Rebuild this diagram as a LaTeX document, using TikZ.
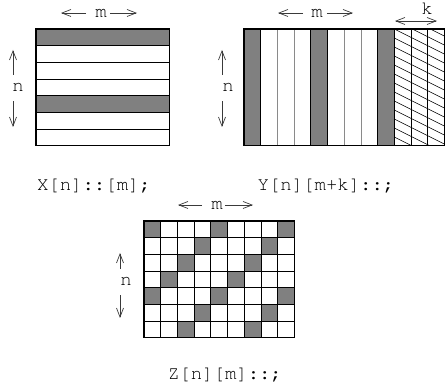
\documentclass[tikz,border=0pt]{standalone}
\usepackage[T1,TU]{fontenc}
\usepackage{xcolor}
\usetikzlibrary{arrows.meta,positioning}
\definecolor{ink}{HTML}{000000}
\definecolor{cellgray}{HTML}{808080}
\definecolor{rulegray}{HTML}{8A8A8A}
\definecolor{arrowink}{HTML}{3A3A3A}
\newcommand{\courfont}{\fontencoding{T1}\fontfamily{pcr}\fontsize{19}{22}\selectfont}
\tikzset{frame/.style={draw=ink,line width=1.2pt}, cellline/.style={draw=ink,line width=.8pt}, softline/.style={draw=rulegray,line width=.8pt}, hatchline/.style={draw=ink,line width=.6pt}, dimarrow/.style={draw=arrowink,line width=.7pt,-{Straight Barb[length=9pt,width=7pt]}}, dimlabel/.style={font=\courfont,inner sep=0pt}, codelabel/.style={font=\courfont,inner sep=0pt}}

\begin{document}
\begin{tikzpicture}[x=1pt,y=-1pt]
\useasboundingbox (0,0) rectangle (445,390);
\def\cs{16.7}
% X: row layout
\begin{scope}[shift={(36,29)}]
 \foreach \r in {0,4} \fill[cellgray] (0,\r*\cs) rectangle (8*\cs,\r*\cs+\cs);
 \foreach \r in {1,...,6} \draw[cellline] (0,\r*\cs) -- (8*\cs,\r*\cs);
 \draw[frame] (0,0) rectangle (8*\cs,7*\cs);
\end{scope}
\node[dimlabel] (xm) at (101,13) {m};
\coordinate (xml) at (61,13); \coordinate (xmr) at (137,13);
\draw[dimarrow,shorten <=9pt] (xm.west) -- (xml);
\draw[dimarrow,shorten <=3pt] (xm.east) -- (xmr);
\node[dimlabel] (xn) at (18,87) {n};
\coordinate (xnu) at (13,50); \coordinate (xnd) at (13,127);
\draw[dimarrow,shorten <=8pt] (xn.north -| xnu) -- (xnu);
\draw[dimarrow,shorten <=10pt] (xn.south -| xnd) -- (xnd);
\node[codelabel] (xcode) at (94,185) {X[n]::[m];};
% Y: column layout with k extra columns
\begin{scope}[shift={(244,29)}]
 \foreach \c in {0,4,8} \fill[cellgray] (\c*\cs,0) rectangle (\c*\cs+\cs,7*\cs);
 \begin{scope}
  \clip (9*\cs,0) rectangle (12*\cs,7*\cs);
  \foreach \i in {-4,...,14} \draw[hatchline] (9*\cs,\i*9) -- ++(3*\cs,1.5*\cs);
 \end{scope}
 \foreach \c in {2,3,6,7} \draw[softline] (\c*\cs,0) -- (\c*\cs,7*\cs);
 \foreach \c in {1,4,5,8,9,10,11} \draw[cellline] (\c*\cs,0) -- (\c*\cs,7*\cs);
 \draw[frame] (0,0) rectangle (12*\cs,7*\cs);
\end{scope}
\node[dimlabel] (ym) at (317,13) {m};
\coordinate (yml) at (278,13); \coordinate (ymr) at (353,13);
\draw[dimarrow,shorten <=8pt] (ym.west) -- (yml);
\draw[dimarrow,shorten <=4pt] (ym.east) -- (ymr);
\node[dimlabel] (yk) at (427,8) {k};
\coordinate (ykl) at (395,21); \coordinate (ykr) at (437,21);
\draw[dimarrow,{Straight Barb[length=9pt,width=7pt]}-{Straight Barb[length=9pt,width=7pt]}] (ykl) -- (ykr);
\node[dimlabel] (yn) at (228,87) {n};
\coordinate (ynu) at (222,50); \coordinate (ynd) at (222,127);
\draw[dimarrow,shorten <=8pt] (yn.north -| ynu) -- (ynu);
\draw[dimarrow,shorten <=10pt] (yn.south -| ynd) -- (ynd);
\node[codelabel] (ycode) at (326,185) {Y[n][m+k]::;};
% Z: checker layout
\begin{scope}[shift={(144,221)}]
 \foreach \r in {0,...,6} \foreach \c in {0,...,8} {
  \pgfmathtruncatemacro{\hit}{mod(\c+\r,4)}
  \ifnum\hit=0 \fill[cellgray] (\c*\cs,\r*\cs) rectangle (\c*\cs+\cs,\r*\cs+\cs);\fi}
 \foreach \r in {1,...,6} \draw[cellline] (0,\r*\cs) -- (9*\cs,\r*\cs);
 \foreach \c in {1,...,8} \draw[cellline] (\c*\cs,0) -- (\c*\cs,7*\cs);
 \draw[frame] (0,0) rectangle (9*\cs,7*\cs);
\end{scope}
\node[dimlabel] (zm) at (217,205) {m};
\coordinate (zml) at (178,205); \coordinate (zmr) at (253,205);
\draw[dimarrow,shorten <=9pt] (zm.west) -- (zml);
\draw[dimarrow,shorten <=2pt] (zm.east) -- (zmr);
\node[dimlabel] (zn) at (126,281) {n};
\coordinate (znu) at (120,253); \coordinate (znd) at (120,318);
\draw[dimarrow,shorten <=8pt] (zn.north -| znu) -- (znu);
\draw[dimarrow,shorten <=10pt] (zn.south -| znd) -- (znd);
\node[codelabel] (zcode) at (225,374) {Z[n][m]::;};
\end{tikzpicture}
\end{document}
